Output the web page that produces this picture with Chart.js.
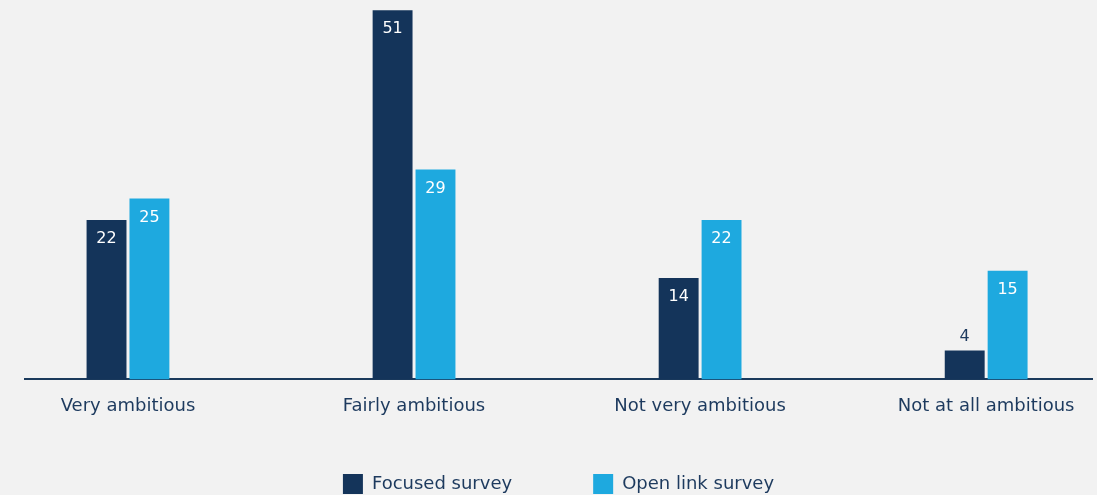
<!DOCTYPE html>
<html>
<head>
<meta charset="utf-8">
<script src="https://cdn.jsdelivr.net/npm/chart.js@4.4.1/dist/chart.umd.min.js"></script>
<style>
  html, body { margin: 0; padding: 0; background: #f2f2f2; }
  #wrap { width: 1097px; height: 495px; }
</style>
</head>
<body>
<div id="wrap"><canvas id="ambitionChart"></canvas></div>
<script>
// categories and values
const categories = ['Very ambitious', 'Fairly ambitious', 'Not very ambitious', 'Not at all ambitious'];
const focusedSurvey = [22, 51, 14, 4];
const openLinkSurvey = [25, 29, 22, 15];
const seriesNames = ['Focused survey', 'Open link survey'];

const darkBlue = '#14345a';
const lightBlue = '#1ea9df';
const textColor = '#1d3a5e';
const fontFamily = '"DejaVu Sans", sans-serif';

// values written on the bars (inside in white, above when the bar is short)
const barValues = {
  id: 'barValues',
  afterDatasetsDraw(chart) {
    const ctx = chart.ctx;
    ctx.save();
    ctx.font = '16px ' + fontFamily;
    ctx.textAlign = 'center';
    ctx.textBaseline = 'middle';
    chart.data.datasets.forEach((ds, i) => {
      const meta = chart.getDatasetMeta(i);
      meta.data.forEach((bar, j) => {
        const v = ds.data[j].y;
        const h = bar.base - bar.y;
        if (h > 36) {
          ctx.fillStyle = '#ffffff';
          ctx.fillText(v, bar.x, bar.y + 19);
        } else {
          ctx.fillStyle = textColor;
          ctx.fillText(v, bar.x, bar.y - 14);
        }
      });
    });
    ctx.restore();
  }
};

const toPoints = arr => arr.map((v, i) => ({ x: i, y: v }));

new Chart(document.getElementById('ambitionChart'), {
  type: 'bar',
  data: {
    datasets: [
      { label: seriesNames[0], data: toPoints(focusedSurvey), backgroundColor: darkBlue,
        categoryPercentage: 0.3, barPercentage: 0.93 },
      { label: seriesNames[1], data: toPoints(openLinkSurvey), backgroundColor: lightBlue,
        categoryPercentage: 0.3, barPercentage: 0.93 }
    ]
  },
  options: {
    responsive: true,
    maintainAspectRatio: false,
    animation: false,
    layout: { padding: { left: 25, right: 5, top: 0, bottom: -9 } },
    scales: {
      x: {
        type: 'linear',
        offset: false,
        min: -0.36,
        max: 3.37,
        afterBuildTicks: s => { s.ticks = categories.map((c, i) => ({ value: i })); },
        grid: { display: false, drawTicks: false },
        border: { display: true, color: '#1b3a5c', width: 2 },
        ticks: {
          padding: 16,
          autoSkip: false,
          maxRotation: 0,
          color: textColor,
          font: { family: fontFamily, size: 18 },
          callback: v => categories[v]
        }
      },
      y: {
        display: false,
        min: 0,
        max: 52.4
      }
    },
    plugins: {
      legend: {
        position: 'bottom',
        labels: {
          boxWidth: 20,
          boxHeight: 20,
          padding: 41,
          color: textColor,
          font: { family: fontFamily, size: 18 },
          // a bit more room after the first item, like the original
          generateLabels: chart => {
            const items = Chart.defaults.plugins.legend.labels.generateLabels(chart);
            items[0].text = items[0].text + '       ';
            return items;
          }
        }
      },
      tooltip: { enabled: false }
    }
  },
  plugins: [barValues]
});
</script>
</body>
</html>
